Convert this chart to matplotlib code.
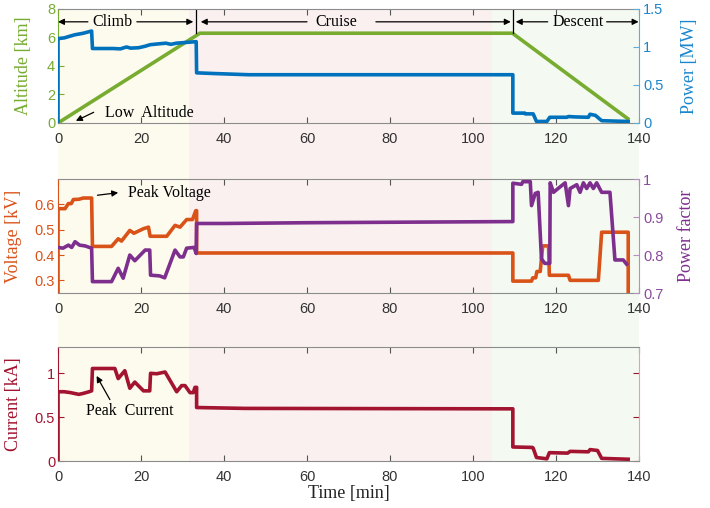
import matplotlib
matplotlib.use("Agg")
import matplotlib.pyplot as plt

# ---------------- data ----------------
phase_names = ["Climb", "Cruise", "Descent"]
shade_edges = [0, 31.6, 104.5, 140]
shade_colors = ["#fdfbee", "#faf0f0", "#f4f9f1"]

t_alt = [0, 34.2, 109.5, 137.3]
altitude = [0, 6.3, 6.3, 0.3]

t_pow = [0, 0, 1.5, 4, 6, 8.1, 8.3, 13.3, 15, 16.5, 17.5, 19.4, 21, 22.2, 24, 26,
         27.2, 28.5, 33.3, 33.4, 38, 46, 109.6, 109.6, 112.5, 112.6, 114.5, 115.3,
         117.8, 118.5, 122.6, 123.0, 124.5, 127.8, 128.2, 129.5, 131.0, 137.4]
power = [0, 1.11, 1.12, 1.16, 1.18, 1.21, 0.98, 0.98, 0.975, 1.0, 0.985, 0.99, 1.01,
         1.03, 1.04, 1.05, 1.035, 1.05, 1.07, 0.66, 0.65, 0.635, 0.635, 0.13, 0.13,
         0.12, 0.12, 0.02, 0.02, 0.075, 0.075, 0.085, 0.08, 0.075, 0.115, 0.1, 0.03, 0.02]

t_volt = [0, 0, 1.7, 2.5, 3.2, 3.7, 5, 6.1, 8.1, 8.3, 12.9, 14.5, 15.3, 17.3, 18.3,
          20.6, 21.8, 22.2, 26.2, 28.2, 29.4, 31, 32.4, 33.2, 33.4, 33.4, 109.6, 109.6,
          114.1, 114.4, 115.1, 115.4, 116.2, 116.8, 118.2, 118.4, 123, 123.4, 130.2,
          131, 137.4, 137.4]
voltage = [0.25, 0.583, 0.583, 0.603, 0.603, 0.619, 0.62, 0.625, 0.625, 0.434, 0.434,
           0.464, 0.455, 0.497, 0.486, 0.504, 0.51, 0.474, 0.474, 0.517, 0.51, 0.54,
           0.54, 0.575, 0.575, 0.408, 0.408, 0.297, 0.297, 0.31, 0.31, 0.335, 0.335,
           0.436, 0.436, 0.32, 0.32, 0.30, 0.30, 0.49, 0.49, 0.25]

t_pf = [0, 1.2, 2.5, 3.3, 4.1, 5.2, 6.5, 8.1, 8.3, 12.9, 14.5, 15.7, 17.3, 18.5, 21,
        22.1, 22.3, 24.5, 25.7, 28.2, 29.4, 30.2, 31, 32.8, 33.3, 33.4, 40, 60, 109.6,
        109.6, 111.7, 112, 113.8, 114.1, 115, 115.7, 116.5, 117.3, 118.5, 118.6, 119.4,
        120.5, 122.2, 123, 123.4, 125, 125.8, 126.6, 127.4, 128.2, 129, 129.8, 131, 133,
        134.2, 136.2, 137]
power_factor = [0.82, 0.818, 0.826, 0.82, 0.835, 0.826, 0.824, 0.818, 0.73, 0.73,
                0.765, 0.739, 0.8, 0.785, 0.813, 0.813, 0.747, 0.745, 0.74, 0.813,
                0.795, 0.795, 0.818, 0.82, 0.804, 0.883, 0.883, 0.885, 0.888, 0.989,
                0.986, 0.993, 0.993, 0.93, 0.962, 0.965, 0.79, 0.778, 0.778, 0.99,
                0.965, 0.975, 0.99, 0.93, 0.975, 0.985, 0.965, 0.99, 0.975, 0.99,
                0.975, 0.99, 0.965, 0.965, 0.787, 0.787, 0.776]

t_cur = [0, 0, 1.5, 3, 4, 5, 6, 7.5, 8.1, 8.3, 13.7, 14.5, 16.1, 17.3, 18.5, 20.6,
         22.1, 22.3, 23.8, 25.8, 28.6, 29.8, 30.6, 31.8, 32.6, 33.0, 33.4, 33.4, 45,
         109.6, 109.6, 114.3, 114.5, 115.3, 117.8, 118.4, 122.8, 123.4, 127.8, 128.2,
         130, 131, 137.4]
current = [0, 0.79, 0.79, 0.78, 0.77, 0.76, 0.77, 0.79, 0.80, 1.055, 1.055, 0.94,
           1.03, 0.83, 0.9, 0.8, 0.8, 1.0, 0.995, 1.015, 0.79, 0.86, 0.86, 0.78, 0.78,
           0.84, 0.84, 0.61, 0.6, 0.595, 0.16, 0.155, 0.147, 0.04, 0.025, 0.095, 0.09,
           0.11, 0.105, 0.13, 0.12, 0.03, 0.02]

x_ticks = [0, 20, 40, 60, 80, 100, 120, 140]

# ---------------- style ----------------
SERIF = "Liberation Serif"
SANS = "Liberation Sans"
plt.rcParams["font.family"] = SANS

c_alt, c_pow = "#77AC30", "#0072BD"
c_volt, c_pf = "#D95319", "#7E2F8E"
c_cur = "#A2142F"
c_frame = "#8c8c8c"
lw = 2.6

fig = plt.figure(figsize=(7.1, 5.08), dpi=100)

L, W, H = 0.0817, 0.8183, 0.2244
bottoms = [0.7579, 0.4232, 0.0925]

# phase shading behind all three panels
bg = fig.add_axes([L, bottoms[2], W, bottoms[0] + H - bottoms[2]])
bg.set_xlim(0, 140)
for a, b, col in zip(shade_edges[:-1], shade_edges[1:], shade_colors):
    bg.axvspan(a, b, color=col, lw=0)
bg.axis("off")


def style_axes(ax, left_color, right_color=None):
    ax.patch.set_visible(False)
    ax.set_xlim(0, 140)
    ax.set_xticks(x_ticks)
    for s in ("top", "bottom"):
        ax.spines[s].set_color(c_frame)
    ax.spines["left"].set_color(left_color)
    ax.spines["right"].set_visible(right_color is not None)
    if right_color is not None:
        ax.spines["right"].set_color(right_color)
    ax.tick_params(axis="x", direction="in", length=4, top=True, color="#555555",
                   labelcolor="#333333", labelsize=10.5, pad=6.3)
    ax.tick_params(axis="y", direction="in", length=4, colors=left_color,
                   labelsize=10.5, pad=2)


# ---------------- panel 1: altitude / power ----------------
ax1 = fig.add_axes([L, bottoms[0], W, H])
style_axes(ax1, c_alt)
ax1.set_ylim(0, 8)
ax1.set_yticks([0, 2, 4, 6, 8])
ax1.plot(t_alt, altitude, color=c_alt, lw=lw, solid_joinstyle="miter")
ax1.set_ylabel("Altitude [km]", family=SERIF, fontsize=13, color=c_alt)
ax1.yaxis.set_label_coords(-0.045, 0.5)

ax1r = ax1.twinx()
ax1r.patch.set_visible(False)
for s in ("left", "top", "bottom"):
    ax1r.spines[s].set_visible(False)
ax1r.spines["right"].set_color("#5aaedf")
ax1r.set_ylim(0, 1.5)
ax1r.set_yticks([0, 0.5, 1, 1.5])
ax1r.set_yticklabels(["0", "0.5", "1", "1.5"])
ax1r.tick_params(axis="y", direction="in", length=4, color="#5aaedf",
                 labelcolor="#1b86cc", labelsize=10.5, pad=3)
ax1r.plot(t_pow, power, color=c_pow, lw=lw)
ax1r.set_ylabel("Power [MW]", family=SERIF, fontsize=13, color="#1b86cc")
ax1r.yaxis.set_label_coords(1.072, 0.5)

# flight-phase markers
arrow_kw = dict(arrowstyle="-|>", color="k", lw=0.9, mutation_scale=9,
                shrinkA=0, shrinkB=0)
y_ph = 7.1
for xb in (33.3, 109.6):
    ax1.plot([xb, xb], [6.3, 8], color="k", lw=0.9)
phase_text_x = [13, 67, 125.3]
phase_arrows = [[(7.2, 0), (19, 32.6)],
                [(60, 34.4), (76.6, 109.1)],
                [(118, 110.3), (132.2, 139.9)]]
for name, xt, arrs in zip(phase_names, phase_text_x, phase_arrows):
    ax1.text(xt, y_ph, name, ha="center", va="center", family=SERIF, fontsize=11.5)
    for x0, x1 in arrs:
        ax1.annotate("", xy=(x1, y_ph), xytext=(x0, y_ph), arrowprops=arrow_kw)

ax1.annotate("", xy=(4.3, 0.15), xytext=(8.6, 0.75), arrowprops=arrow_kw)
ax1.text(11.3, 0.72, "Low  Altitude", ha="left", va="center", family=SERIF,
         fontsize=11.5)

# ---------------- panel 2: voltage / power factor ----------------
ax2 = fig.add_axes([L, bottoms[1], W, H])
style_axes(ax2, c_volt)
ax2.set_ylim(0.25, 0.7)
ax2.set_yticks([0.3, 0.4, 0.5, 0.6])
ax2.plot(t_volt, voltage, color=c_volt, lw=lw)
ax2.set_ylabel("Voltage [kV]", family=SERIF, fontsize=13, color=c_volt)
ax2.yaxis.set_label_coords(-0.062, 0.5)

ax2r = ax2.twinx()
ax2r.patch.set_visible(False)
for s in ("left", "top", "bottom"):
    ax2r.spines[s].set_visible(False)
ax2r.spines["right"].set_color("#b68fc4")
ax2r.set_ylim(0.7, 1.0)
ax2r.set_yticks([0.7, 0.8, 0.9, 1.0])
ax2r.set_yticklabels(["0.7", "0.8", "0.9", "1"])
ax2r.tick_params(axis="y", direction="in", length=4, color="#b68fc4",
                 labelcolor="#8a4a9c", labelsize=10.5, pad=3)
ax2r.plot(t_pf, power_factor, color=c_pf, lw=lw)
ax2r.set_ylabel("Power factor", family=SERIF, fontsize=13, color=c_pf)
ax2r.yaxis.set_label_coords(1.067, 0.5)

ax2.annotate("", xy=(14.5, 0.646), xytext=(9.5, 0.636), arrowprops=arrow_kw)
ax2.text(16.9, 0.646, "Peak Voltage", ha="left", va="center", family=SERIF,
         fontsize=11.5)

# ---------------- panel 3: current ----------------
ax3 = fig.add_axes([L, bottoms[2], W, H])
style_axes(ax3, c_cur, right_color="#e3a3ad")
ax3.set_ylim(0, 1.3)
ax3.set_yticks([0, 0.5, 1])
ax3.set_yticklabels(["0", "0.5", "1"])
ax3.tick_params(axis="y", right=True)
ax3.plot(t_cur, current, color=c_cur, lw=lw)
ax3.set_ylabel("Current [kA]", family=SERIF, fontsize=13, color=c_cur)
ax3.yaxis.set_label_coords(-0.062, 0.5)
ax3.set_xlabel("Time [min]", family=SERIF, fontsize=13, color="#222222",
               labelpad=1)

ax3.annotate("", xy=(9.3, 0.97), xytext=(12.5, 0.7), arrowprops=arrow_kw)
ax3.text(17.4, 0.57, "Peak  Current", ha="center", va="center", family=SERIF,
         fontsize=11.5)

fig.savefig("out.png", dpi=100)
